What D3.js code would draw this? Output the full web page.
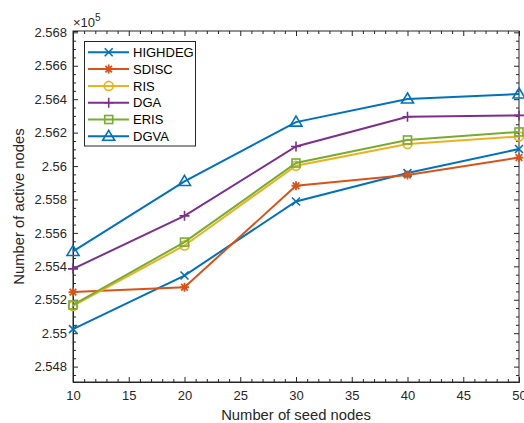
<!DOCTYPE html>
<html><head><meta charset="utf-8">
<script src="https://cdn.jsdelivr.net/npm/d3@7"></script>
<style>body{margin:0;background:#fff}svg{display:block}text{font-family:"Liberation Sans",Arial,sans-serif}</style>
</head><body>
<script>
const seeds = [10, 20, 30, 40, 50];
const HIGHDEG = [2.55024, 2.55345, 2.55788, 2.55958, 2.56102];
const SDISC   = [2.55246, 2.55275, 2.55882, 2.55946, 2.56051];
const RIS     = [2.55163, 2.55525, 2.56002, 2.56132, 2.56177];
const DGA     = [2.55385, 2.55702, 2.56117, 2.56295, 2.56303];
const ERIS    = [2.55169, 2.55545, 2.56018, 2.56156, 2.56204];
const DGVA    = [2.55489, 2.55908, 2.56263, 2.56401, 2.56431];
const seriesNames = ["HIGHDEG", "SDISC", "RIS", "DGA", "ERIS", "DGVA"];
const seriesValues = [HIGHDEG, SDISC, RIS, DGA, ERIS, DGVA];
const seriesColors = ["#0072BD", "#D95319", "#EDB120", "#7E2F8E", "#77AC30", "#0072BD"];
const seriesMarkers = ["x", "asterisk", "circle", "plus", "square", "triangle"];
const xTicks = [10, 15, 20, 25, 30, 35, 40, 45, 50];
const yTicks = [2.548, 2.55, 2.552, 2.554, 2.556, 2.558, 2.56, 2.562, 2.564, 2.566, 2.568];
const xLabel = "Number of seed nodes";
const yLabel = "Number of active nodes";

const W = 524, H = 423;
const L = 73, R = 519, T = 31, B = 382;
const svg = d3.select("body").append("svg").attr("width", W).attr("height", H);
const x = d3.scaleLinear().domain([10, 50]).range([L, R]);
const y = d3.scaleLinear().domain([2.54708, 2.56808]).range([B, T]);
const axisColor = "#262626";

// axes
const fmt = d => d3.format("")(+d.toFixed(3));
const gx = svg.append("g").attr("transform", `translate(0,${B})`)
  .call(d3.axisBottom(x).tickValues(xTicks).tickSize(-5).tickPadding(9));
const gxMinor = svg.append("g").attr("transform", `translate(0,${B})`)
  .call(d3.axisBottom(x).tickValues(d3.range(10, 51, 1).filter(v => v % 5)).tickSize(-3).tickFormat(""));
const gxTop = svg.append("g").attr("transform", `translate(0,${T})`)
  .call(d3.axisTop(x).tickValues(xTicks).tickSize(-5).tickFormat(""));
const gxTopMinor = svg.append("g").attr("transform", `translate(0,${T})`)
  .call(d3.axisTop(x).tickValues(d3.range(10, 51, 1).filter(v => v % 5)).tickSize(-3).tickFormat(""));
const gy = svg.append("g").attr("transform", `translate(${L},0)`)
  .call(d3.axisLeft(y).tickValues(yTicks).tickSize(-5).tickPadding(6).tickFormat(fmt));
const yMinorVals = d3.range(0, 43).map(i => 2.5475 + i * 0.0005).filter(v => v <= 2.5681 && Math.abs((v * 1000) % 2) > 0.01 && Math.abs((v*1000)%2 - 2) > 0.01);
const gyMinor = svg.append("g").attr("transform", `translate(${L},0)`)
  .call(d3.axisLeft(y).tickValues(yMinorVals).tickSize(-3).tickFormat(""));
const gyR = svg.append("g").attr("transform", `translate(${R},0)`)
  .call(d3.axisRight(y).tickValues(yTicks).tickSize(-5).tickFormat(""));
const gyRMinor = svg.append("g").attr("transform", `translate(${R},0)`)
  .call(d3.axisRight(y).tickValues(yMinorVals).tickSize(-3).tickFormat(""));
[gx, gxMinor, gxTop, gxTopMinor, gy, gyMinor, gyR, gyRMinor].forEach(g => {
  g.selectAll("path").attr("stroke", axisColor).attr("stroke-width", 1);
  g.selectAll("line").attr("stroke", axisColor).attr("stroke-width", 1);
  g.selectAll("text").attr("fill", axisColor).attr("font-size", 13).attr("font-family", "Liberation Sans, Arial, sans-serif");
});
[gxMinor, gxTop, gxTopMinor, gyMinor, gyR, gyRMinor].forEach(g => g.select("path").remove());
svg.append("rect").attr("x", L).attr("y", T).attr("width", R - L).attr("height", B - T)
  .attr("fill", "none").attr("stroke", axisColor).attr("stroke-width", 1);

// exponent label
const ex = svg.append("text").attr("x", L).attr("y", 27).attr("fill", axisColor).attr("font-size", 13);
ex.append("tspan").text("\u00d710");
ex.append("tspan").attr("dy", -6).attr("font-size", 10).text("5");

// axis labels
svg.append("text").attr("x", (L + R) / 2).attr("y", 420).attr("text-anchor", "middle")
  .attr("fill", axisColor).attr("font-size", 14.8).text(xLabel);
svg.append("text").attr("transform", `translate(24,${(T + B) / 2}) rotate(-90)`).attr("text-anchor", "middle")
  .attr("fill", axisColor).attr("font-size", 14.8).text(yLabel);

function drawMarker(g, type, cx, cy, color) {
  const s = 4;
  if (type === "x") {
    g.append("path").attr("d", `M${cx-s},${cy-s}L${cx+s},${cy+s}M${cx-s},${cy+s}L${cx+s},${cy-s}`)
      .attr("stroke", color).attr("stroke-width", 1.6).attr("fill", "none");
  } else if (type === "plus") {
    g.append("path").attr("d", `M${cx-5},${cy}L${cx+5},${cy}M${cx},${cy-5}L${cx},${cy+5}`)
      .attr("stroke", color).attr("stroke-width", 1.6).attr("fill", "none");
  } else if (type === "asterisk") {
    const r = 4.5, d = 3.3;
    g.append("path").attr("d", `M${cx-r},${cy}L${cx+r},${cy}M${cx},${cy-r}L${cx},${cy+r}M${cx-d},${cy-d}L${cx+d},${cy+d}M${cx-d},${cy+d}L${cx+d},${cy-d}`)
      .attr("stroke", color).attr("stroke-width", 1.8).attr("fill", "none");
  } else if (type === "circle") {
    g.append("circle").attr("cx", cx).attr("cy", cy).attr("r", 4.5)
      .attr("stroke", color).attr("stroke-width", 1.6).attr("fill", "none");
  } else if (type === "square") {
    g.append("rect").attr("x", cx - 4).attr("y", cy - 4).attr("width", 8).attr("height", 8)
      .attr("stroke", color).attr("stroke-width", 1.6).attr("fill", "none");
  } else if (type === "triangle") {
    g.append("path").attr("d", `M${cx},${cy-6}L${cx+6},${cy+4}L${cx-6},${cy+4}Z`)
      .attr("stroke", color).attr("stroke-width", 1.6).attr("fill", "none");
  }
}

const line = d3.line().x((d, i) => x(seeds[i])).y(d => y(d));
const plot = svg.append("g");
seriesValues.forEach((vals, k) => {
  const g = plot.append("g");
  g.append("path").attr("d", line(vals)).attr("fill", "none")
    .attr("stroke", seriesColors[k]).attr("stroke-width", 2);
  vals.forEach((v, i) => drawMarker(g, seriesMarkers[k], x(seeds[i]), y(v), seriesColors[k]));
});

// legend
const lg = svg.append("g");
lg.append("rect").attr("x", 84.5).attr("y", 41.5).attr("width", 111).attr("height", 104.5)
  .attr("fill", "#fff").attr("stroke", axisColor).attr("stroke-width", 1);
seriesNames.forEach((name, k) => {
  const yy = 52.3 + k * 16.8;
  lg.append("line").attr("x1", 88).attr("x2", 129).attr("y1", yy).attr("y2", yy)
    .attr("stroke", seriesColors[k]).attr("stroke-width", 2);
  drawMarker(lg, seriesMarkers[k], 108.7, yy, seriesColors[k]);
  lg.append("text").attr("x", 133).attr("y", yy + 4.6).attr("fill", "#000").attr("font-size", 13).text(name);
});
</script>
</body></html>
